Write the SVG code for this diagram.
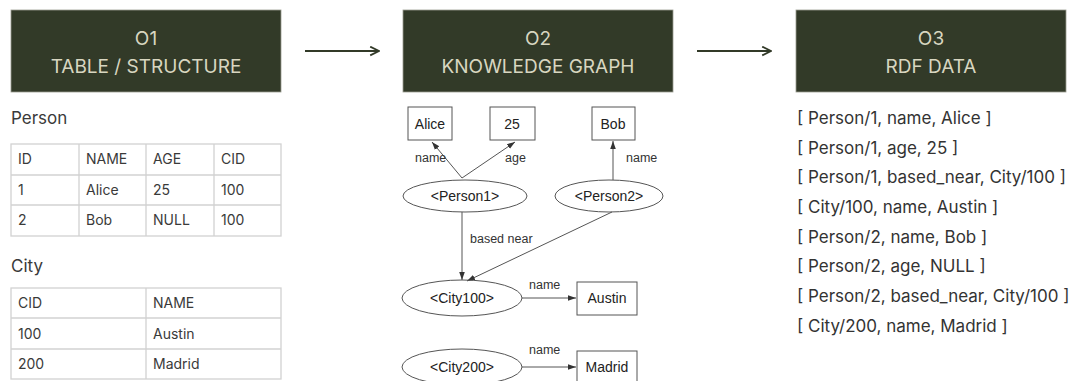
<svg xmlns="http://www.w3.org/2000/svg" width="1073" height="381" viewBox="0 0 1073 381">
  <style>
    .hdr { fill: #323a28; stroke: #9a9c90; stroke-width: 0.8; }
    .hdr-t { font-family: Inter, "Noto Sans", sans-serif; font-size: 19px; fill: #d8d6c0; text-anchor: middle; }
    .flow { stroke: #323a28; stroke-width: 2.2; fill: none; }
    .cap { font-family: Inter, "Noto Sans", sans-serif; font-size: 17px; fill: #3a3a3a; }
    .grid { stroke: #d2d2d2; stroke-width: 1.3; fill: #fff; }
    .cell { font-family: Inter, "Noto Sans", sans-serif; font-size: 14px; fill: #3a3a3a; }
    .nbox { fill: #fff; stroke: #555; stroke-width: 1; }
    .nt { font-family: "Liberation Sans", Arial, sans-serif; font-size: 14px; fill: #222; text-anchor: middle; }
    .el { stroke: #555; stroke-width: 1; fill: none; }
    .lbl { font-family: "Liberation Sans", Arial, sans-serif; font-size: 12.5px; fill: #333; }
    .rdf { font-family: Inter, "Noto Sans", sans-serif; font-size: 17px; fill: #333; }
  </style>
  <defs>
    <marker id="big" viewBox="0 0 10 10" refX="9" refY="5" markerWidth="5" markerHeight="5" orient="auto" markerUnits="strokeWidth">
      <path d="M1,1 L9,5 L1,9" fill="none" stroke="#323a28" stroke-width="1.6"/>
    </marker>
    <marker id="tip" viewBox="0 0 10 10" refX="10" refY="5" markerWidth="8" markerHeight="8" orient="auto" markerUnits="userSpaceOnUse">
      <path d="M0,1.5 L10,5 L0,8.5 Z" fill="#333"/>
    </marker>
  </defs>

  <!-- stage headers -->
  <g id="stage1">
    <rect class="hdr" x="11" y="10" width="270" height="82"/>
    <text class="hdr-t" x="146" y="45">O1</text>
    <text class="hdr-t" x="146" y="73">TABLE / STRUCTURE</text>
  </g>
  <g id="stage2">
    <rect class="hdr" x="403" y="10" width="270" height="82"/>
    <text class="hdr-t" x="538" y="45">O2</text>
    <text class="hdr-t" x="538" y="73">KNOWLEDGE GRAPH</text>
  </g>
  <g id="stage3">
    <rect class="hdr" x="796" y="10" width="270" height="82"/>
    <text class="hdr-t" x="931" y="45">O3</text>
    <text class="hdr-t" x="931" y="73">RDF DATA</text>
  </g>

  <g id="flow-connectors">
    <line class="flow" x1="305" y1="51" x2="379" y2="51" marker-end="url(#big)"/>
    <line class="flow" x1="697" y1="51" x2="771" y2="51" marker-end="url(#big)"/>
  </g>

  <!-- Person table -->
  <g id="person-table">
    <text class="cap" x="11" y="124">Person</text>
    <rect class="grid" x="11" y="144" width="270" height="92"/>
    <path class="grid" d="M11,175 H281 M11,205 H281 M79,144 V236 M146,144 V236 M214,144 V236"/>
    <text class="cell" x="18" y="164">ID</text>
    <text class="cell" x="86" y="164">NAME</text>
    <text class="cell" x="153" y="164">AGE</text>
    <text class="cell" x="221" y="164">CID</text>
    <text class="cell" x="18" y="195">1</text>
    <text class="cell" x="86" y="195">Alice</text>
    <text class="cell" x="153" y="195">25</text>
    <text class="cell" x="221" y="195">100</text>
    <text class="cell" x="18" y="225">2</text>
    <text class="cell" x="86" y="225">Bob</text>
    <text class="cell" x="153" y="225">NULL</text>
    <text class="cell" x="221" y="225">100</text>
  </g>

  <!-- City table -->
  <g id="city-table">
    <text class="cap" x="11" y="272">City</text>
    <rect class="grid" x="11" y="288" width="270" height="91"/>
    <path class="grid" d="M11,318 H281 M11,349 H281 M146,288 V379"/>
    <text class="cell" x="18" y="308">CID</text>
    <text class="cell" x="153" y="308">NAME</text>
    <text class="cell" x="18" y="339">100</text>
    <text class="cell" x="153" y="339">Austin</text>
    <text class="cell" x="18" y="369">200</text>
    <text class="cell" x="153" y="369">Madrid</text>
  </g>

  <!-- knowledge graph edges -->
  <g id="graph-edges" stroke="#555" stroke-width="1" fill="none">
    <line x1="462" y1="178" x2="432" y2="142" marker-end="url(#tip)"/>
    <line x1="462" y1="178" x2="515" y2="142" marker-end="url(#tip)"/>
    <line x1="613" y1="180" x2="613" y2="141" marker-end="url(#tip)"/>
    <line x1="462" y1="212" x2="462" y2="280" marker-end="url(#tip)"/>
    <line x1="612" y1="212" x2="467" y2="281" marker-end="url(#tip)"/>
    <line x1="522" y1="298" x2="576" y2="298" marker-end="url(#tip)"/>
    <line x1="522" y1="367" x2="576" y2="367" marker-end="url(#tip)"/>
    <g stroke="none">
      <text class="lbl" x="415" y="162">name</text>
      <text class="lbl" x="505" y="162">age</text>
      <text class="lbl" x="626" y="162">name</text>
      <text class="lbl" x="470" y="243">based near</text>
      <text class="lbl" x="529" y="289">name</text>
      <text class="lbl" x="529" y="354">name</text>
    </g>
  </g>

  <!-- knowledge graph nodes -->
  <g id="node-alice">
    <rect class="nbox" x="408" y="107" width="44" height="33"/>
    <text class="nt" x="430" y="129">Alice</text>
  </g>
  <g id="node-25">
    <rect class="nbox" x="490" y="107" width="45" height="33"/>
    <text class="nt" x="512" y="129">25</text>
  </g>
  <g id="node-bob">
    <rect class="nbox" x="592" y="107" width="43" height="33"/>
    <text class="nt" x="613" y="129">Bob</text>
  </g>
  <g id="node-person1">
    <ellipse class="el" cx="465" cy="196" rx="62" ry="16"/>
    <text class="nt" x="465" y="201">&lt;Person1&gt;</text>
  </g>
  <g id="node-person2">
    <ellipse class="el" cx="609" cy="196" rx="54" ry="16"/>
    <text class="nt" x="609" y="201">&lt;Person2&gt;</text>
  </g>
  <g id="node-city100">
    <ellipse class="el" cx="462" cy="298" rx="60" ry="18"/>
    <text class="nt" x="462" y="303">&lt;City100&gt;</text>
  </g>
  <g id="node-austin">
    <rect class="nbox" x="577" y="282" width="60" height="33"/>
    <text class="nt" x="607" y="303">Austin</text>
  </g>
  <g id="node-city200">
    <ellipse class="el" cx="462" cy="367" rx="60" ry="18"/>
    <text class="nt" x="462" y="372">&lt;City200&gt;</text>
  </g>
  <g id="node-madrid">
    <rect class="nbox" x="577" y="351" width="60" height="33"/>
    <text class="nt" x="607" y="372">Madrid</text>
  </g>

  <!-- RDF triples -->
  <g id="rdf-triples">
    <text class="rdf" x="797" y="124">[ Person/1, name, Alice ]</text>
    <text class="rdf" x="797" y="154">[ Person/1, age, 25 ]</text>
    <text class="rdf" x="797" y="183">[ Person/1, based_near, City/100 ]</text>
    <text class="rdf" x="797" y="213">[ City/100, name, Austin ]</text>
    <text class="rdf" x="797" y="243">[ Person/2, name, Bob ]</text>
    <text class="rdf" x="797" y="272">[ Person/2, age, NULL ]</text>
    <text class="rdf" x="797" y="302">[ Person/2, based_near, City/100 ]</text>
    <text class="rdf" x="797" y="332">[ City/200, name, Madrid ]</text>
  </g>
</svg>
